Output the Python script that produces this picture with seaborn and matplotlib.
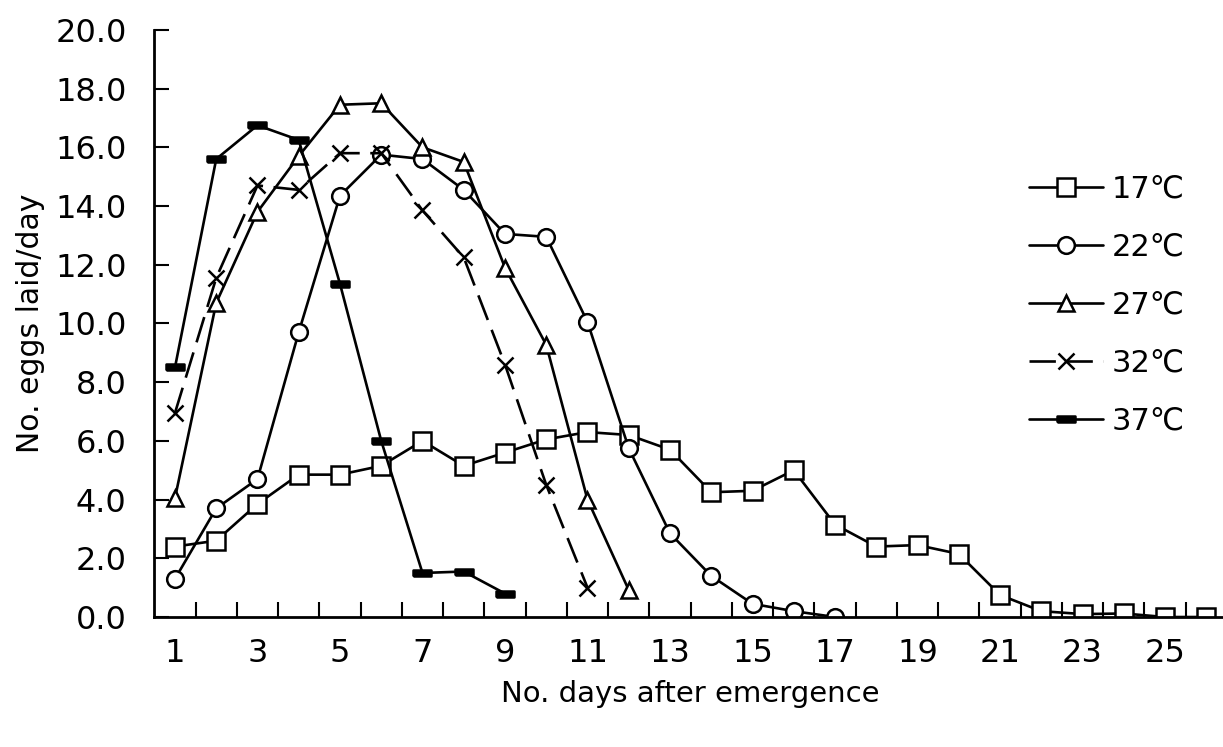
import numpy as np
import pandas as pd
import matplotlib
matplotlib.use('Agg')
import matplotlib.pyplot as plt
import seaborn as sns
from matplotlib.font_manager import FontProperties

# dados (ovos por dia x dias apos emergencia)
days_17 = list(range(1, 27))
eggs_17 = [2.4, 2.6, 3.85, 4.85, 4.85, 5.15, 6.0, 5.15, 5.6, 6.05, 6.3, 6.2, 5.7,
           4.25, 4.3, 5.0, 3.15, 2.4, 2.45, 2.15, 0.75, 0.2, 0.1, 0.12, 0.0, 0.0]
days_22 = list(range(1, 18))
eggs_22 = [1.3, 3.7, 4.7, 9.7, 14.35, 15.75, 15.6, 14.55, 13.05, 12.95, 10.05, 5.75,
           2.85, 1.4, 0.45, 0.2, 0.0]
days_27 = list(range(1, 13))
eggs_27 = [4.05, 10.7, 13.8, 15.7, 17.45, 17.5, 16.0, 15.5, 11.9, 9.27, 4.0, 0.92]
days_32 = list(range(1, 12))
eggs_32 = [6.95, 11.55, 14.7, 14.55, 15.8, 15.8, 13.85, 12.25, 8.6, 4.5, 1.0]
days_37 = list(range(1, 10))
eggs_37 = [8.5, 15.6, 16.75, 16.25, 11.35, 6.0, 1.5, 1.55, 0.8]
labels = ['17℃', '22℃', '27℃', '32℃', '37℃']

sns.set_style('white')
plt.rcParams['font.family'] = ['DejaVu Sans']
plt.rcParams['text.color'] = 'black'
plt.rcParams['axes.labelcolor'] = 'black'
plt.rcParams['xtick.color'] = 'black'
plt.rcParams['ytick.color'] = 'black'

fig = plt.figure(figsize=(12.23, 7.47), dpi=100)
ax = fig.add_axes([0.1262, 0.174, 0.877, 0.786])

bar = [(-1, -0.3), (1, -0.3), (1, 0.3), (-1, 0.3), (-1, -0.3)]
series = [
    (days_17, eggs_17, dict(marker='s', markersize=13, markerfacecolor='white', ls='-')),
    (days_22, eggs_22, dict(marker='o', markersize=12, markerfacecolor='white', ls='-')),
    (days_27, eggs_27, dict(marker='^', markersize=12, markerfacecolor='white', ls='-')),
    (days_32, eggs_32, dict(marker='x', markersize=12, mew=1.8, ls=(0, (10, 4)))),
    (days_37, eggs_37, dict(marker=bar, markersize=13, markerfacecolor='black', ls='-')),
]
for (d, e, kw), lab in zip(series, labels):
    sns.lineplot(x=d, y=e, ax=ax, color='black', lw=1.9, markeredgecolor='black',
                 markeredgewidth=kw.pop('mew', 1.8), label=lab, **kw)

ax.set_xlim(0.5, 26.5)
ax.set_ylim(0, 20)
# ticks entre as categorias, rotulos nos dias impares
ax.set_xticks(np.arange(1.5, 26.5, 1), minor=False)
ax.set_xticklabels([])
ax.set_xticks(np.arange(1, 27, 2), minor=True)
ax.set_xticklabels([str(i) for i in range(1, 27, 2)], minor=True)
ax.set_yticks(np.arange(0, 20.1, 2))
ax.set_yticklabels([f'{v:.1f}' for v in np.arange(0, 20.1, 2)])
ax.tick_params(axis='x', which='major', direction='in', length=11, width=1.5, bottom=True)
ax.tick_params(axis='x', which='minor', length=0, pad=15, labelsize=23)
ax.tick_params(axis='y', direction='in', length=11, width=1.5, left=True, pad=20, labelsize=23)
for s in ['top', 'right']:
    ax.spines[s].set_visible(False)
for s in ['left', 'bottom']:
    ax.spines[s].set_color('black')
    ax.spines[s].set_linewidth(2)

ax.set_xlabel('No. days after emergence', fontsize=21, labelpad=8)
ax.set_ylabel('No. eggs laid/day', fontsize=21.5, labelpad=7)

fp = FontProperties(family=['DejaVu Sans'], size=22)
ax.legend(loc='upper left', bbox_to_anchor=(0.79, 0.80), frameon=False, prop=fp,
          handlelength=2.4, labelspacing=0.95, handletextpad=0.3)

fig.savefig('out.png', dpi=100)
